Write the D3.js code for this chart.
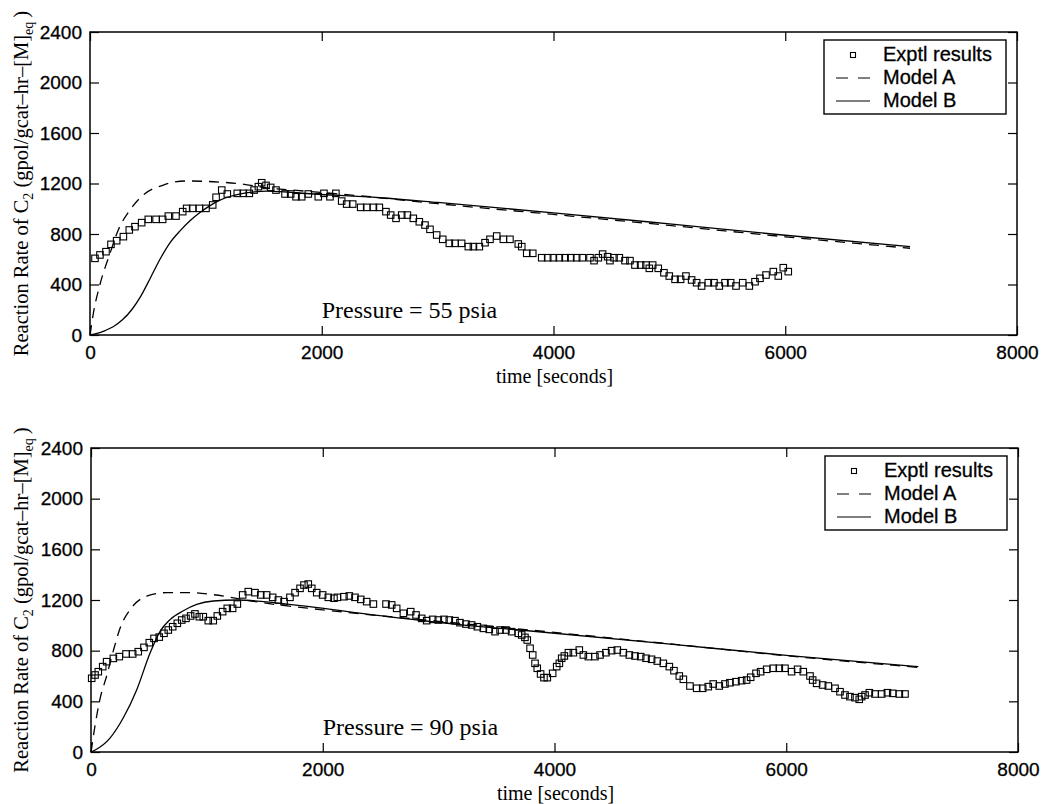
<!DOCTYPE html>
<html>
<head>
<meta charset="utf-8">
<script src="https://cdn.jsdelivr.net/npm/d3@7"></script>
<style>
  html, body { margin: 0; padding: 0; background: #fff; }
  svg { display: block; }
</style>
</head>
<body>
<svg id="chart" width="1041" height="804"></svg>
<script>
// Axis ticks
const timeTicks = [0, 2000, 4000, 6000, 8000];
const rateTicks = [0, 400, 800, 1200, 1600, 2000, 2400];

// Legend entries
const legendLabels = ["Exptl results", "Model A", "Model B"];

// ---- 55 psia run: [time s, rate] ----
const exptl55 = [[43,607],[86,634],[138,660],[181,718],[230,747],[288,779],[339,832],[388,858],[446,890],[503,916],[570,916],[627,916],[676,942],[742,942],[800,977],[834,1003],[886,1003],[944,1003],[1001,1003],[1059,1030],[1088,1091],[1137,1148],[1185,1117],[1271,1122],[1323,1122],[1375,1122],[1416,1148],[1453,1175],[1482,1206],[1519,1185],[1559,1169],[1605,1148],[1683,1117],[1732,1117],[1778,1095],[1827,1095],[1884,1117],[1970,1095],[2019,1122],[2071,1095],[2122,1122],[2172,1061],[2215,1037],[2267,1037],[2336,1011],[2388,1011],[2446,1011],[2497,1011],[2554,977],[2595,950],[2641,924],[2690,950],[2739,950],[2790,924],[2842,897],[2891,871],[2934,837],[2992,792],[3044,758],[3101,726],[3150,726],[3207,726],[3265,700],[3309,700],[3360,700],[3409,731],[3452,758],[3510,784],[3567,758],[3624,758],[3696,721],[3726,700],[3769,647],[3821,647],[3898,612],[3950,612],[3999,612],[4050,612],[4100,612],[4149,612],[4200,612],[4249,612],[4315,612],[4350,589],[4387,612],[4424,641],[4467,620],[4487,589],[4522,612],[4568,612],[4617,589],[4660,589],[4703,554],[4752,554],[4798,554],[4827,528],[4856,554],[4904,528],[4953,493],[4999,467],[5049,441],[5097,441],[5143,467],[5192,436],[5235,414],[5278,388],[5336,414],[5385,414],[5431,388],[5480,414],[5529,414],[5575,388],[5633,414],[5690,388],[5739,422],[5782,449],[5834,475],[5897,502],[5940,467],[5983,533],[6026,502]];

const modelA55 = [[0,0],[29,172],[86,400],[173,647],[244,832],[345,990],[460,1109],[633,1188],[834,1220],[1064,1214],[1294,1198],[1525,1165],[1784,1145],[2416,1095],[3000,1040],[4000,955],[5000,868],[6000,778],[7077,687]];

const modelB55 = [[0,0],[60,12],[130,35],[200,65],[280,120],[360,200],[440,310],[520,450],[604,600],[690,730],[777,825],[863,905],[949,970],[1036,1025],[1122,1068],[1208,1097],[1300,1118],[1400,1132],[1525,1140],[1927,1117],[2503,1087],[3000,1050],[4000,968],[5000,880],[6000,790],[7077,700]];

// ---- 90 psia run: [time s, rate] ----
const exptl90 = [[6,582],[35,608],[63,634],[101,674],[135,713],[193,739],[244,753],[302,774],[360,774],[408,792],[457,826],[503,863],[544,897],[589,907],[630,937],[667,963],[705,989],[745,1016],[783,1042],[820,1055],[860,1074],[897,1090],[935,1068],[969,1068],[1012,1037],[1055,1037],[1090,1074],[1136,1108],[1176,1134],[1222,1134],[1263,1168],[1309,1240],[1357,1266],[1415,1258],[1465,1240],[1516,1240],[1568,1221],[1617,1200],[1666,1187],[1717,1221],[1761,1258],[1804,1292],[1838,1318],[1875,1326],[1905,1292],[1948,1258],[1999,1240],[2048,1221],[2097,1214],[2126,1221],[2183,1226],[2229,1232],[2278,1221],[2328,1205],[2379,1187],[2437,1168],[2546,1168],[2595,1161],[2638,1134],[2696,1095],[2759,1108],[2805,1082],[2854,1055],[2897,1037],[2949,1047],[2997,1042],[3046,1047],[3092,1042],[3141,1037],[3184,1021],[3236,1010],[3285,1003],[3334,989],[3386,976],[3437,968],[3487,950],[3530,963],[3581,963],[3630,950],[3688,937],[3717,924],[3745,905],[3765,884],[3789,819],[3812,766],[3832,700],[3851,661],[3880,616],[3909,587],[3938,587],[3984,621],[4019,674],[4042,700],[4062,740],[4085,758],[4120,784],[4163,784],[4214,805],[4249,766],[4292,753],[4349,753],[4393,766],[4444,784],[4493,800],[4542,805],[4594,784],[4646,766],[4695,758],[4744,753],[4790,740],[4838,732],[4887,718],[4939,700],[4991,674],[5031,642],[5077,600],[5112,574],[5169,521],[5227,503],[5279,503],[5327,516],[5370,537],[5422,521],[5471,537],[5514,547],[5566,555],[5615,563],[5658,568],[5693,590],[5739,621],[5779,634],[5831,653],[5888,661],[5940,661],[5989,661],[6046,634],[6098,653],[6147,634],[6205,600],[6228,568],[6262,542],[6314,529],[6363,521],[6421,503],[6464,476],[6507,450],[6550,437],[6593,429],[6630,416],[6651,437],[6680,450],[6717,468],[6766,458],[6824,458],[6873,468],[6919,463],[6976,458],[7025,458]];

const modelA90 = [[0,0],[35,210],[78,420],[135,600],[193,800],[250,975],[351,1140],[480,1230],[652,1258],[854,1258],[1055,1242],[1200,1222],[1400,1190],[2000,1122],[3000,1032],[4000,944],[5000,853],[6000,760],[7140,668]];

const modelB90 = [[0,0],[40,18],[164,110],[279,270],[394,490],[509,779],[595,950],[682,1045],[797,1115],[912,1165],[1055,1192],[1257,1200],[1631,1174],[2494,1076],[3242,1000],[3702,963],[5000,852],[6000,763],[7140,674]];

const panels = [
  { left: 90, right: 1017, top: 32, bottom: 335, exptl: exptl55, a: modelA55, b: modelB55, note: "Pressure = 55 psia" },
  { left: 91, right: 1018, top: 448, bottom: 752, exptl: exptl90, a: modelA90, b: modelB90, note: "Pressure = 90 psia" }
];

const svg = d3.select("#chart");
svg.append("rect").attr("width", 1041).attr("height", 804).attr("fill", "#fff");

const sansFont = "'Liberation Sans', Arial, Helvetica, sans-serif";
const serifFont = "'Liberation Serif', 'Times New Roman', Times, serif";
const tickLen = 9;

panels.forEach(p => {
  const x = d3.scaleLinear().domain([0, 8000]).range([p.left, p.right]);
  const y = d3.scaleLinear().domain([0, 2400]).range([p.bottom, p.top]);
  const g = svg.append("g");

  // inward ticks on all four sides
  const styleAxis = sel => {
    sel.select(".domain").remove();
    sel.selectAll(".tick line").attr("stroke", "#000").attr("stroke-width", 1.2);
    sel.selectAll("text").attr("fill", "#000")
      .attr("stroke", "#000").attr("stroke-width", 0.3)
      .style("font-family", sansFont).style("font-size", "19px");
  };
  g.append("g").attr("transform", `translate(0,${p.bottom})`)
    .call(d3.axisBottom(x).tickValues(timeTicks).tickFormat(d3.format("d")).tickSizeInner(-tickLen).tickSizeOuter(0).tickPadding(11))
    .call(styleAxis);
  g.append("g").attr("transform", `translate(0,${p.top})`)
    .call(d3.axisTop(x).tickValues(timeTicks).tickFormat("").tickSizeInner(-tickLen).tickSizeOuter(0))
    .call(styleAxis);
  g.append("g").attr("transform", `translate(${p.left},0)`)
    .call(d3.axisLeft(y).tickValues(rateTicks).tickFormat(d3.format("d")).tickSizeInner(-tickLen).tickSizeOuter(0).tickPadding(8))
    .call(styleAxis);
  g.append("g").attr("transform", `translate(${p.right},0)`)
    .call(d3.axisRight(y).tickValues(rateTicks).tickFormat("").tickSizeInner(-tickLen).tickSizeOuter(0))
    .call(styleAxis);

  // plot frame
  g.append("rect")
    .attr("x", p.left).attr("y", p.top)
    .attr("width", p.right - p.left).attr("height", p.bottom - p.top)
    .attr("fill", "none").attr("stroke", "#000").attr("stroke-width", 1.5);

  const line = d3.line().x(d => x(d[0])).y(d => y(d[1])).curve(d3.curveMonotoneX);

  g.append("path").datum(p.b).attr("d", line)
    .attr("fill", "none").attr("stroke", "#000").attr("stroke-width", 1.3);
  g.append("path").datum(p.a).attr("d", line)
    .attr("fill", "none").attr("stroke", "#000").attr("stroke-width", 1.3)
    .attr("stroke-dasharray", "10,7");

  const s = 6.5;
  g.append("g").selectAll("rect").data(p.exptl).join("rect")
    .attr("x", d => x(d[0]) - s / 2).attr("y", d => y(d[1]) - s / 2)
    .attr("width", s).attr("height", s)
    .attr("fill", "none").attr("stroke", "#000").attr("stroke-width", 1.1);

  // run annotation
  g.append("text")
    .attr("x", x(2000)).attr("y", y(135))
    .style("font-family", serifFont).style("font-size", "24px")
    .text(p.note);

  // axis titles
  g.append("text")
    .attr("x", (p.left + p.right) / 2 + 1).attr("y", p.bottom + 48)
    .attr("text-anchor", "middle")
    .style("font-family", serifFont).style("font-size", "20px")
    .text("time [seconds]");

  const yl = g.append("text")
    .attr("transform", `translate(28,${(p.top + p.bottom) / 2}) rotate(-90)`)
    .attr("text-anchor", "middle")
    .style("font-family", serifFont).style("font-size", "20.5px");
  yl.append("tspan").text("Reaction Rate of C");
  yl.append("tspan").attr("dy", 5).style("font-size", "14px").text("2");
  yl.append("tspan").attr("dy", -5).text(" (gpol/gcat\u2013hr\u2013[M]");
  yl.append("tspan").attr("dy", 5).style("font-size", "14px").text("eq");
  yl.append("tspan").attr("dy", -5).text("\u2009)");

  // legend
  const lw = 182, lh = 74;
  const lx = p.right - 11 - lw, ly = p.top + 8;
  const lg = g.append("g").attr("transform", `translate(${lx},${ly})`);
  lg.append("rect").attr("width", lw).attr("height", lh)
    .attr("fill", "#fff").attr("stroke", "#000").attr("stroke-width", 1.4);
  const rows = [21, 44, 67];
  lg.append("rect").attr("x", 29 - 2.5).attr("y", rows[0] - 6 - 2.5).attr("width", 5).attr("height", 5)
    .attr("fill", "none").attr("stroke", "#000").attr("stroke-width", 1.1);
  lg.append("line").attr("x1", 12).attr("x2", 46).attr("y1", rows[1] - 6).attr("y2", rows[1] - 6)
    .attr("stroke", "#000").attr("stroke-width", 1.1).attr("stroke-dasharray", "12,10");
  lg.append("line").attr("x1", 12).attr("x2", 46).attr("y1", rows[2] - 6).attr("y2", rows[2] - 6)
    .attr("stroke", "#000").attr("stroke-width", 1.1);
  legendLabels.forEach((t, i) => {
    lg.append("text").attr("x", 59).attr("y", rows[i])
      .attr("stroke", "#000").attr("stroke-width", 0.3)
      .style("font-family", sansFont).style("font-size", "20px").text(t);
  });
});
</script>
</body>
</html>
